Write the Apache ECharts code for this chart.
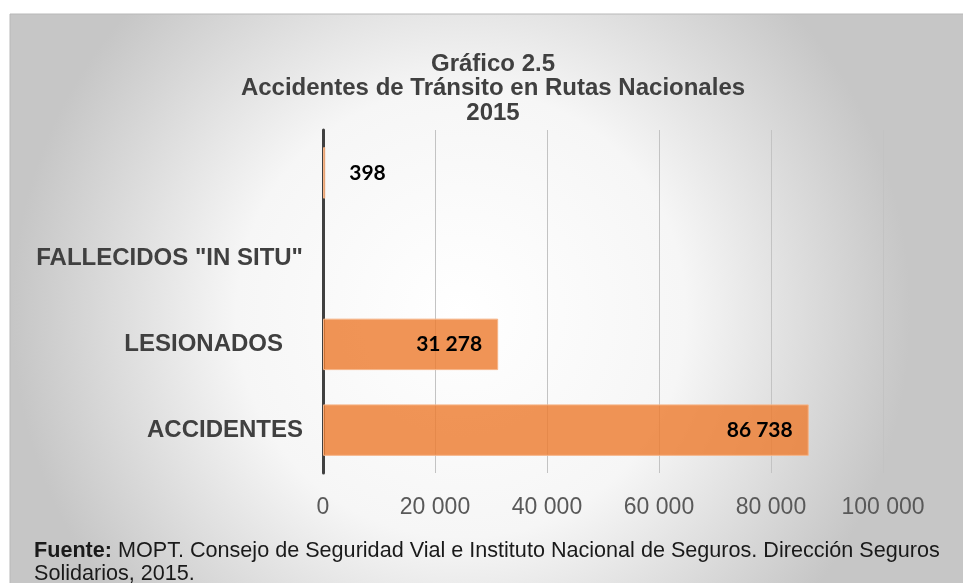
<!DOCTYPE html>
<html>
<head>
<meta charset="utf-8">
<script src="https://cdn.jsdelivr.net/npm/echarts@6/dist/echarts.min.js"></script>
<style>
  html, body { margin: 0; padding: 0; background: #ffffff; }
  #chart { width: 963px; height: 583px; }
</style>
</head>
<body>
<div id="chart"></div>
<script>
// datos del gráfico (de abajo hacia arriba, como en el original)
const categories = ['ACCIDENTES', 'LESIONADOS   ', 'FALLECIDOS "IN SITU"', '']
const values = [86738, 31278, null, 398]
const xTicks = [0, 20000, 40000, 60000, 80000, 100000]

const titleLines = ['Gráfico 2.5', 'Accidentes de Tránsito en Rutas Nacionales', '2015']
const sourceLine1 = 'MOPT. Consejo de Seguridad Vial e Instituto Nacional de Seguros. Dirección Seguros'
const sourceLine2 = 'Solidarios, 2015.'

// separador de miles con espacio
function fmt(v) {
  return String(v).replace(/\B(?=(\d{3})+(?!\d))/g, ' ')
}

const chart = echarts.init(document.getElementById('chart'), null, { renderer: 'canvas' })

const barData = values.map(function(v) {
  if (v === null) return null
  // barras pequeñas: etiqueta fuera, a la derecha
  const small = v < 5000
  return {
    value: v,
    label: {
      position: small ? 'right' : 'insideRight',
      distance: small ? 24 : 16
    }
  }
})

const option = {
  animation: false,
  backgroundColor: '#ffffff',
  graphic: [
    {
      type: 'rect',
      z: -10,
      silent: true,
      shape: { x: 10, y: 14, width: 960, height: 575 },
      style: {
        fill: new echarts.graphic.RadialGradient(0.47, 0.52, 0.78, [
          { offset: 0, color: '#ffffff' },
          { offset: 0.5, color: '#f6f6f6' },
          { offset: 1, color: '#c6c6c6' }
        ]),
        stroke: '#b8b8b8',
        lineWidth: 1
      }
    },
    {
      type: 'text',
      left: 34,
      top: 540,
      silent: true,
      style: {
        text: '{b|Fuente:} ' + sourceLine1 + '\n' + sourceLine2,
        font: '21.6px "Liberation Sans", Arial, sans-serif',
        fill: '#1a1a1a',
        lineHeight: 23,
        rich: {
          b: { fontWeight: 'bold', fontSize: 21.6, fontFamily: '"Liberation Sans", Arial, sans-serif', fill: '#1a1a1a' }
        }
      }
    }
  ],
  title: {
    text: titleLines.join('\n'),
    left: 488,
    textAlign: 'center',
    top: 47,
    textStyle: {
      fontFamily: '"Liberation Sans", Arial, sans-serif',
      fontWeight: 'bold',
      fontSize: 24,
      lineHeight: 24.5,
      color: '#404040'
    }
  },
  grid: {
    left: 323,
    right: 80,
    top: 130,
    bottom: 110,
    containLabel: false
  },
  xAxis: {
    type: 'value',
    min: xTicks[0],
    max: xTicks[xTicks.length - 1],
    interval: xTicks[1] - xTicks[0],
    axisLine: { show: false },
    axisTick: { show: false },
    splitLine: { show: true, lineStyle: { color: '#c3c3c3', width: 1 } },
    axisLabel: {
      margin: 23,
      color: '#595959',
      fontSize: 23,
      fontFamily: '"Liberation Sans", Arial, sans-serif',
      formatter: function(v) { return fmt(v) }
    }
  },
  yAxis: {
    type: 'category',
    data: categories,
    axisLine: { show: true, lineStyle: { color: '#404040', width: 3 } },
    axisTick: { show: false },
    axisLabel: {
      margin: 20,
      color: '#404040',
      fontSize: 24,
      fontWeight: 'bold',
      fontFamily: '"Liberation Sans", Arial, sans-serif'
    }
  },
  series: [
    {
      type: 'bar',
      data: barData,
      barCategoryGap: '40%',
      z: 1,
      itemStyle: {
        color: 'rgba(237, 125, 49, 0.82)',
        borderColor: 'rgba(246, 180, 135, 1)',
        borderWidth: 1
      },
      label: {
        show: true,
        color: '#000000',
        fontSize: 21,
        fontWeight: 'bold',
        fontFamily: 'Lato, "Open Sans", sans-serif',
        formatter: function(p) { return fmt(p.value) }
      }
    }
  ]
}

chart.setOption(option)
</script>
</body>
</html>
